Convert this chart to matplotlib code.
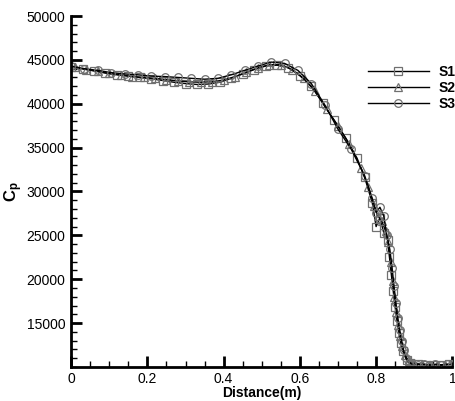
import numpy as np
import matplotlib
matplotlib.use('Agg')
import matplotlib.pyplot as plt
from matplotlib.ticker import MultipleLocator

plt.rcParams['font.family'] = ['Liberation Sans', 'DejaVu Sans']
plt.rcParams['mathtext.fontset'] = 'custom'
plt.rcParams['mathtext.rm'] = 'Liberation Sans'
plt.rcParams['mathtext.bf'] = 'Liberation Sans:bold'

# S1 (squares)
x1 = [0.00, 0.03, 0.06, 0.09, 0.12, 0.15, 0.18, 0.21, 0.24, 0.27, 0.30, 0.33,
      0.36, 0.39, 0.42, 0.45, 0.48, 0.51, 0.54, 0.57, 0.60, 0.63, 0.66, 0.69,
      0.72, 0.75, 0.77, 0.79, 0.80, 0.81, 0.82, 0.83, 0.835, 0.84, 0.845, 0.85,
      0.855, 0.86, 0.865, 0.87, 0.88, 0.89, 0.91, 0.93, 0.95, 0.97, 0.99]
y1 = [44200, 44000, 43750, 43500, 43300, 43150, 43000, 42850, 42650, 42450, 42300, 42200,
      42250, 42450, 42900, 43400, 43900, 44300, 44400, 44100, 43200, 42000, 40100, 38100,
      36100, 33800, 31600, 28700, 26000, 27000, 25300, 24500, 22500, 20500, 18600, 16800,
      15200, 13900, 12700, 11800, 10800, 10500, 10300, 10200, 10250, 10200, 10300]

# S2 (triangles)
x2 = [0.01, 0.04, 0.07, 0.10, 0.13, 0.16, 0.19, 0.22, 0.25, 0.28, 0.31, 0.34,
      0.37, 0.40, 0.43, 0.46, 0.49, 0.52, 0.55, 0.58, 0.61, 0.64, 0.67, 0.70,
      0.73, 0.76, 0.78, 0.795, 0.805, 0.815, 0.825, 0.832, 0.838, 0.843, 0.848, 0.853,
      0.858, 0.863, 0.868, 0.875, 0.885, 0.90, 0.92, 0.94, 0.96, 0.98, 1.00]
y2 = [44150, 43900, 43700, 43450, 43300, 43100, 43000, 42900, 42750, 42600, 42500, 42450,
      42500, 42700, 43100, 43600, 44100, 44450, 44450, 43900, 42900, 41400, 39400, 37500,
      35400, 32700, 30500, 28300, 27200, 26600, 25500, 24200, 22000, 19800, 18000, 16300,
      14800, 13500, 12400, 11400, 10700, 10400, 10300, 10250, 10250, 10200, 10300]

# S3 (circles)
x3 = [0.00, 0.035, 0.07, 0.105, 0.14, 0.175, 0.21, 0.245, 0.28, 0.315, 0.35, 0.385,
      0.42, 0.455, 0.49, 0.525, 0.56, 0.595, 0.63, 0.665, 0.70, 0.735, 0.77, 0.79,
      0.80, 0.81, 0.82, 0.828, 0.836, 0.842, 0.847, 0.852, 0.857, 0.862, 0.867, 0.872,
      0.878, 0.886, 0.895, 0.91, 0.925, 0.94, 0.955, 0.97, 0.985, 1.00]
y3 = [44300, 44000, 43800, 43550, 43400, 43300, 43150, 43100, 43000, 42900, 42800, 42900,
      43300, 43800, 44300, 44750, 44600, 43800, 42300, 39900, 37100, 34800, 31800, 29200,
      27600, 28200, 27200, 25000, 23400, 21300, 19200, 17300, 15600, 14200, 13000, 11900,
      11000, 10500, 10300, 10250, 10300, 10200, 10300, 10250, 10300, 10300]

series = [('S1', x1, y1, 's'), ('S2', x2, y2, '^'), ('S3', x3, y3, 'o')]

fig = plt.figure(figsize=(4.56, 4.01), dpi=100)
ax = fig.add_axes([0.156, 0.085, 0.836, 0.875])

for name, xs, ys, mk in series:
    ax.plot(xs, ys, color='k', lw=1.0, marker=mk, markersize=5.5,
            markerfacecolor='none', markeredgecolor='#707070',
            markeredgewidth=0.9, label=name)

ax.set_xlim(0, 1)
ax.set_ylim(10000, 50000)
ax.set_xticks([0, 0.2, 0.4, 0.6, 0.8, 1])
ax.set_xticklabels(['0', '0.2', '0.4', '0.6', '0.8', '1'])
ax.set_yticks(np.arange(15000, 50001, 5000))
ax.xaxis.set_minor_locator(MultipleLocator(0.05))
ax.yaxis.set_minor_locator(MultipleLocator(1000))

ax.spines['top'].set_visible(False)
ax.spines['right'].set_visible(False)
ax.spines['left'].set_linewidth(2)
ax.spines['bottom'].set_linewidth(2)
ax.tick_params(which='major', direction='in', length=8, width=2, labelsize=10, pad=4)
ax.tick_params(which='minor', direction='in', length=4, width=1)

ax.set_xlabel('Distance(m)', fontsize=10, fontweight='bold', labelpad=0)
ax.set_ylabel(r'$\mathbf{C_p}$', fontsize=12, labelpad=1)

leg = ax.legend(loc='upper left', bbox_to_anchor=(0.745, 0.896), frameon=False,
                handlelength=4.4, handletextpad=0.7, labelspacing=0.15,
                prop={'weight': 'bold', 'size': 10})

fig.savefig('out.png', dpi=100)
